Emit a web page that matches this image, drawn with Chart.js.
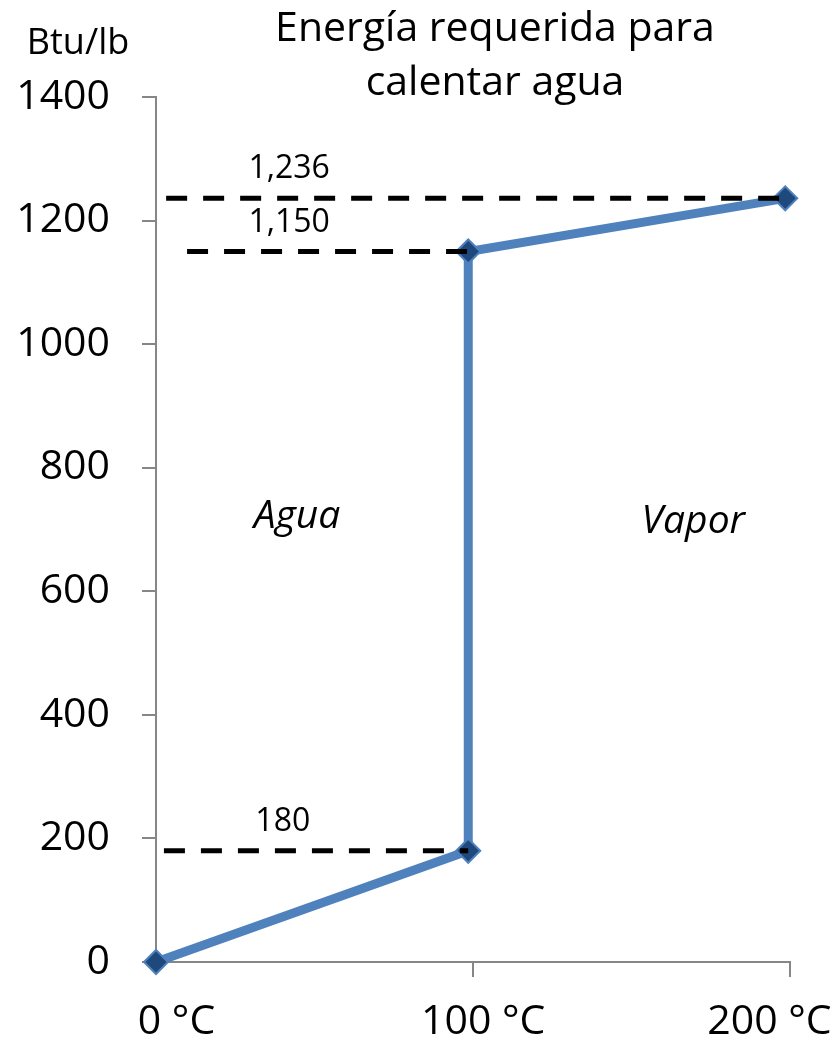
<!DOCTYPE html>
<html>
<head>
<meta charset="utf-8">
<script src="https://cdn.jsdelivr.net/npm/chart.js@4/dist/chart.umd.min.js"></script>
<style>
  html, body { margin: 0; padding: 0; background: #fff; }
  #wrap { width: 833px; height: 1045px; }
</style>
</head>
<body>
<div id="wrap"><canvas id="energyChart" width="833" height="1045"></canvas></div>
<script>
// temperature (°C) vs energy (Btu/lb)
const tempC = [0, 98.5, 98.5, 198.5];
const energyBtu = [0, 180, 1150, 1236];

// dashed guide lines: level, where they start and stop on the x axis
const guideValues = [180, 1150, 1236];
const guideFrom = [2.5, 9.8, 3.2];
const guideTo = [98.5, 98.5, 198.5];
const guideLabels = ['180', '1,150', '1,236'];

const xTickValues = [0, 100, 200];
const yTickValues = [0, 200, 400, 600, 800, 1000, 1200, 1400];

const titleLines = ['Energía requerida para', 'calentar agua'];
const unitLabel = 'Btu/lb';
const regionLabels = ['Agua', 'Vapor'];

const FONT = "'Open Sans', 'Noto Sans', sans-serif";
const AXIS_GRAY = '#868686';

document.addEventListener('DOMContentLoaded', () => {
    const ctx = document.getElementById('energyChart').getContext('2d');

    const mainData = tempC.map((t, i) => ({ x: t, y: energyBtu[i] }));

    const guideSets = guideValues.map((v, i) => ({
        label: guideLabels[i],
        data: [{ x: guideFrom[i], y: v }, { x: guideTo[i], y: v }],
        showLine: true,
        borderColor: '#000',
        borderWidth: 5,
        borderDash: [21, 16],
        pointRadius: 0,
        order: 0,
        clip: false
    }));

    // texts drawn at data positions
    const textPlugin = {
        id: 'chartTexts',
        afterDraw(chart) {
            const { ctx, scales: { x, y } } = chart;
            ctx.save();
            ctx.fillStyle = '#000';
            ctx.textAlign = 'center';
            ctx.textBaseline = 'middle';

            ctx.font = `41px ${FONT}`;
            ctx.fillText(titleLines[0], 495, 29);
            ctx.fillText(titleLines[1], 495, 83);

            ctx.font = `36px ${FONT}`;
            ctx.fillText(unitLabel, 78, 44);

            ctx.font = `32px ${FONT}`;
            guideValues.forEach((v, i) => {
                const lx = v < 500 ? 40 : 42;
                ctx.fillText(guideLabels[i], x.getPixelForValue(lx), y.getPixelForValue(v + 47));
            });

            ctx.font = `italic 39px ${FONT}`;
            ctx.fillText(regionLabels[0], x.getPixelForValue(44.5), y.getPixelForValue(720));
            ctx.fillText(regionLabels[1], x.getPixelForValue(169.5), y.getPixelForValue(712));
            ctx.restore();
        }
    };

    new Chart(ctx, {
        type: 'scatter',
        data: {
            datasets: [
                {
                    label: 'Energía',
                    data: mainData,
                    showLine: true,
                    borderColor: '#4F81BD',
                    borderWidth: 9,
                    pointStyle: 'rectRot',
                    pointRadius: 12,
                    pointBackgroundColor: '#1F497D',
                    pointBorderColor: '#4F81BD',
                    pointBorderWidth: 2,
                    order: 1,
                    clip: false
                },
                ...guideSets
            ]
        },
        options: {
            responsive: false,
            animation: false,
            devicePixelRatio: 1,
            layout: {
                autoPadding: false,
                padding: { top: 97, right: 43, bottom: 0, left: 0 }
            },
            plugins: {
                legend: { display: false },
                tooltip: { enabled: false },
                title: { display: false }
            },
            scales: {
                x: {
                    type: 'linear',
                    min: 0,
                    max: 200,
                    afterBuildTicks: scale => { scale.ticks = xTickValues.map(v => ({ value: v })); },
                    afterFit: scale => {
                        scale.height = 83;
                        // labels may overhang the canvas edge like the original
                        scale.paddingLeft = 0;
                        scale.paddingRight = 0;
                    },
                    border: { color: AXIS_GRAY, width: 2 },
                    grid: {
                        drawOnChartArea: false,
                        tickLength: 15,
                        lineWidth: 2,
                        color: c => (c.tick && c.tick.value === 0 ? 'rgba(0,0,0,0)' : AXIS_GRAY)
                    },
                    ticks: {
                        padding: 21,
                        color: '#000',
                        font: { family: FONT, size: 41 },
                        maxRotation: 0,
                        // nudges like the original: first label right, last label left
                        callback: v => {
                            if (v === 0) return '\u2003' + v + ' °C';
                            if (v === 200) return v + ' °C\u2003';
                            return '\u2002' + v + ' °C';
                        }
                    }
                },
                y: {
                    min: 0,
                    max: 1400,
                    afterBuildTicks: scale => { scale.ticks = yTickValues.map(v => ({ value: v })); },
                    afterFit: scale => {
                        scale.width = 156;
                        scale.paddingTop = 0;
                        scale.paddingBottom = 0;
                    },
                    border: { color: AXIS_GRAY, width: 2 },
                    grid: {
                        drawOnChartArea: false,
                        tickLength: 14,
                        lineWidth: 2,
                        color: AXIS_GRAY
                    },
                    ticks: {
                        padding: 32,
                        color: '#000',
                        font: { family: FONT, size: 41 },
                        callback: v => String(v)
                    }
                }
            }
        },
        plugins: [textPlugin]
    });
});
</script>
</body>
</html>
